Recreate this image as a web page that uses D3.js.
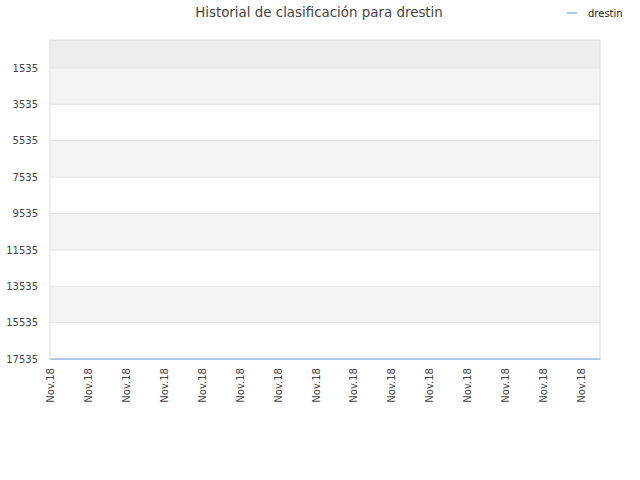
<!DOCTYPE html>
<html>
<head>
<meta charset="utf-8">
<script src="https://cdn.jsdelivr.net/npm/d3@7"></script>
<style>
  body { margin: 0; background: #fff; }
  text { font-family: "DejaVu Sans", sans-serif; }
</style>
</head>
<body>
<svg id="chart" width="640" height="480"></svg>
<script>
const title = "Historial de clasificación para drestin";
const seriesName = "drestin";
const xLabels = ["Nov.18", "Nov.18", "Nov.18", "Nov.18", "Nov.18", "Nov.18", "Nov.18", "Nov.18",
                 "Nov.18", "Nov.18", "Nov.18", "Nov.18", "Nov.18", "Nov.18", "Nov.18"];
const xIndex = [0, 1, 2, 3, 4, 5, 6, 7, 8, 9, 10, 11, 12, 13, 14, 14.5];
const rankValues = [17535, 17535, 17535, 17535, 17535, 17535, 17535, 17535,
                    17535, 17535, 17535, 17535, 17535, 17535, 17535, 17535];
const yTicks = [1535, 3535, 5535, 7535, 9535, 11535, 13535, 15535, 17535];

const margin = {top: 40, right: 40, bottom: 121, left: 50};
const width = 640 - margin.left - margin.right;
const height = 480 - margin.top - margin.bottom;

const svg = d3.select("#chart");
const g = svg.append("g").attr("transform", `translate(${margin.left},${margin.top})`);

const x = d3.scaleLinear().domain([0, 14.5]).range([0, width]);
const y = d3.scaleLinear().domain([0, 17535]).range([0, height]);

// background bands
const bandEdges = [0].concat(yTicks);
g.selectAll("rect.band")
    .data(d3.pairs(bandEdges))
    .join("rect")
    .attr("class", "band")
    .attr("x", 0)
    .attr("width", width)
    .attr("y", d => y(d[0]))
    .attr("height", d => y(d[1]) - y(d[0]))
    .attr("fill", (d, i) => i === 0 ? "#ededed" : (i % 2 === 1 ? "#f3f3f3" : "#ffffff"));

// grid lines
g.selectAll("line.grid")
    .data(yTicks)
    .join("line")
    .attr("class", "grid")
    .attr("x1", 0).attr("x2", width)
    .attr("y1", d => y(d)).attr("y2", d => y(d))
    .attr("stroke", "#e2e2e2");

// frame
g.append("rect")
    .attr("width", width).attr("height", height)
    .attr("fill", "none").attr("stroke", "#dddddd");

// y axis labels
const yAxis = d3.axisLeft(y).tickValues(yTicks).tickFormat(d3.format("d"))
    .tickSize(0).tickPadding(12);
g.append("g").call(yAxis)
    .call(a => a.select(".domain").remove())
    .selectAll("text")
    .attr("fill", "#444").attr("font-size", 10);

// x axis labels
const xAxis = d3.axisBottom(x).tickValues(xIndex.slice(0, xLabels.length))
    .tickFormat((d, i) => xLabels[i]).tickSize(0);
g.append("g").attr("transform", `translate(0,${height})`).call(xAxis)
    .call(a => a.select(".domain").attr("stroke", "#bbbbbb"))
    .selectAll("text")
    .attr("fill", "#444").attr("font-size", 10)
    .attr("text-anchor", "end")
    .attr("transform", "rotate(-90)")
    .attr("dx", "-9").attr("dy", "0.35em").attr("y", 0)
    .attr("x", 0);

// series line
const line = d3.line().x((d, i) => x(xIndex[i])).y(d => y(d));
g.append("path")
    .datum(rankValues)
    .attr("d", line)
    .attr("fill", "none")
    .attr("stroke", "#a8c8f0")
    .attr("stroke-width", 1.5);

// title
svg.append("text")
    .attr("x", 319).attr("y", 17)
    .attr("text-anchor", "middle")
    .attr("font-size", 13.4)
    .attr("fill", "#444")
    .text(title);

// legend
const legend = svg.append("g").attr("transform", "translate(567,13)");
legend.append("line").attr("x1", 0).attr("x2", 10).attr("y1", 0).attr("y2", 0)
    .attr("stroke", "#a8c8f0").attr("stroke-width", 2);
legend.append("text").attr("x", 21).attr("y", 3.5)
    .attr("font-size", 10).attr("fill", "#222").text(seriesName);
</script>
</body>
</html>
